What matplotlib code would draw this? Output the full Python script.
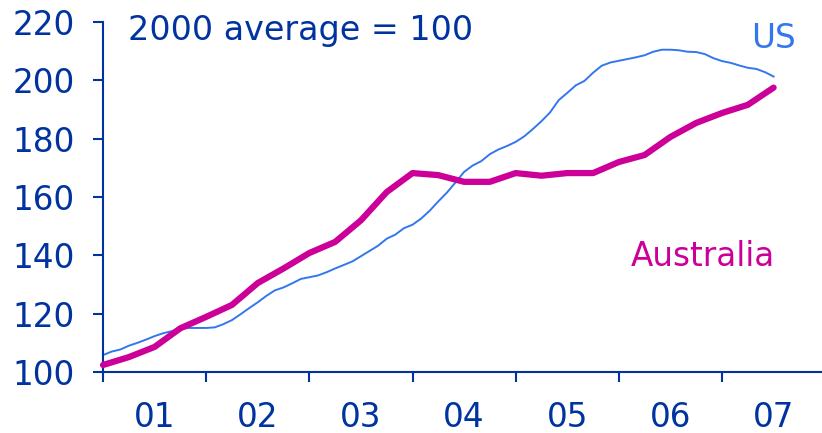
import matplotlib
matplotlib.use("Agg")
import matplotlib.pyplot as plt
import numpy as np

# Australia: quarterly, starting 2001 Q1
aus_values = [102.4, 105.1, 108.6, 115.0, 118.9, 123.0, 130.5, 135.5, 140.8, 144.6,
              152.0, 161.7, 168.2, 167.5, 165.2, 165.2, 168.2, 167.3, 168.2, 168.2,
              172.0, 174.4, 180.6, 185.4, 188.8, 191.6, 197.5]
# US: monthly, starting Jan 2001
us_values = [105.8, 107.0, 107.7, 109.0, 110.0, 111.1, 112.3, 113.3, 114.0, 114.8,
             115.1, 115.1, 115.1, 115.3, 116.4, 117.8, 119.8, 121.9, 123.9, 126.1,
             128.0, 129.0, 130.4, 131.9, 132.5, 133.1, 134.2, 135.5, 136.7, 137.9,
             139.7, 141.5, 143.3, 145.7, 147.1, 149.3, 150.5, 152.6, 155.3, 158.5,
             161.5, 165.0, 168.6, 170.8, 172.3, 174.7, 176.3, 177.5, 178.9, 180.8,
             183.3, 186.0, 189.0, 193.2, 195.7, 198.3, 199.8, 202.6, 205.0, 206.1,
             206.7, 207.3, 207.9, 208.6, 209.8, 210.5, 210.5, 210.3, 209.8, 209.7,
             209.0, 207.6, 206.6, 206.0, 205.1, 204.3, 203.9, 202.8, 201.3]
year_labels = ["01", "02", "03", "04", "05", "06", "07"]
y_ticks = [100, 120, 140, 160, 180, 200, 220]

start_year = 2001
aus_x = start_year + np.arange(len(aus_values)) * 0.25
us_x = start_year + np.arange(len(us_values)) / 12.0

DARK = "#0033a0"
US_C = "#3377ee"
AUS_C = "#cc0099"

plt.rcParams['font.family'] = ['DejaVu Sans']
fig = plt.figure(figsize=(8.22, 4.33), dpi=100)
ax = fig.add_axes([103/822, 1 - 372/433, 1 - 103/822, (372 - 22)/433])

ax.plot(us_x, us_values, color=US_C, lw=1.4, clip_on=False, zorder=2)
ax.plot(aus_x, aus_values, color=AUS_C, lw=4.5, clip_on=False, zorder=3,
        solid_capstyle='round', solid_joinstyle='round')

ax.set_xlim(start_year, start_year + 719/103.17)
ax.set_ylim(100, 220)

for s in ['top', 'right']:
    ax.spines[s].set_visible(False)
for s in ['left', 'bottom']:
    ax.spines[s].set_color(DARK)
    ax.spines[s].set_linewidth(1.5)

ax.set_yticks(y_ticks)
ax.set_yticklabels([str(v) for v in y_ticks])
ax.tick_params(axis='y', direction='out', length=7.2, width=1.5, colors=DARK,
               labelsize=23.5, pad=13)

n_years = len(year_labels)
ax.set_xticks([start_year + i for i in range(n_years)])
ax.set_xticklabels([])
ax.set_xticks([start_year + i + 0.5 for i in range(n_years)], minor=True)
ax.set_xticklabels(year_labels, minor=True)
ax.tick_params(axis='x', which='major', direction='out', length=7.5, width=1.5, colors=DARK)
ax.tick_params(axis='x', which='minor', length=0, colors=DARK, labelsize=23.5, pad=21)

fig.text(128/822, 1 - 40/433, "2000 average = 100", color=DARK, fontsize=24,
         va='baseline', ha='left')
fig.text(751/822, 1 - 48/433, "US", color=US_C, fontsize=23.5, va='baseline', ha='left')
fig.text(631/822, 1 - 266/433, "Australia", color=AUS_C, fontsize=23.5,
         va='baseline', ha='left')

fig.savefig("out.png", dpi=100)
